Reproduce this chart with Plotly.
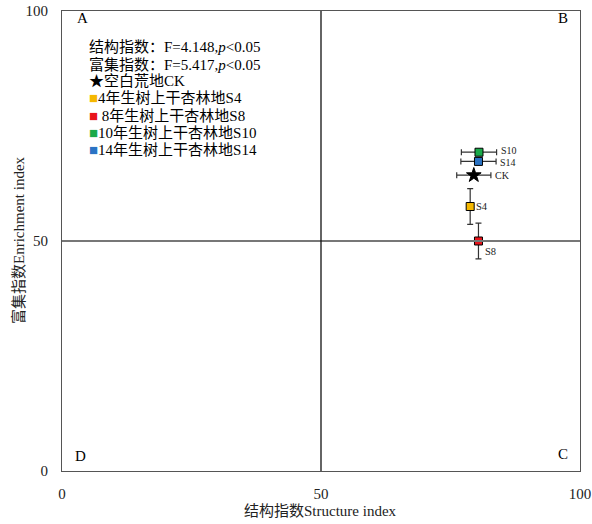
import plotly.graph_objects as go

# Data
sites = ["CK", "S4", "S8", "S10", "S14"]
legend_names = ["空白荒地CK", "4年生树上干杏林地S4", " 8年生树上干杏林地S8",
                "10年生树上干杏林地S10", "14年生树上干杏林地S14"]
structure_index = [79.5, 78.8, 80.4, 80.5, 80.4]
structure_err = [3.3, 0, 0, 3.4, 3.4]
enrichment_index = [64.3, 57.5, 50.0, 69.3, 67.3]
enrichment_err = [0, 3.9, 3.9, 0, 0]
colors = ["black", "#f5b800", "#e8141b", "#1aaa4a", "#2a73c4"]
symbols = ["star", "square", "square", "square", "square"]
legend_glyphs = ["★", "■", "■", "■", "■"]
sizes = [11, 8, 8, 8, 8]
label_yshift = [0, 0, -3, 2, -1]
stat_lines = ["结构指数：F=4.148,<i>p</i><0.05", "富集指数：F=5.417,<i>p</i><0.05"]
tick_vals = [0, 50, 100]
corner_labels = ["A", "B", "C", "D"]

FONT = "Liberation Serif, Times New Roman, Noto Sans CJK SC, serif"

W, H = 592, 524
L, T = 62, 11
R = 592 - 580
B = 524 - 471
PW, PH = W - L - R, H - T - B


def px_to_paper(px, py):
    return (px - L) / PW, (H - B - py) / PH


fig = go.Figure()
for i, s in enumerate(sites):
    fig.add_trace(go.Scatter(
        x=[structure_index[i]], y=[enrichment_index[i]],
        mode="markers",
        name=legend_names[i],
        marker=dict(symbol=symbols[i], size=sizes[i], color=colors[i],
                    line=dict(color="black", width=1)),
        error_x=dict(type="data", array=[structure_err[i]], visible=structure_err[i] > 0,
                     color="#333", thickness=1.2, width=3),
        error_y=dict(type="data", array=[enrichment_err[i]], visible=enrichment_err[i] > 0,
                     color="#333", thickness=1.2, width=3),
    ))
    # site label
    if structure_err[i] > 0:
        fig.add_annotation(x=structure_index[i] + structure_err[i] + 0.4, y=enrichment_index[i],
                           text=s, showarrow=False, xanchor="left", yanchor="middle",
                           yshift=label_yshift[i],
                           font=dict(family=FONT, size=10, color="#222"))
    elif s == "S8":
        fig.add_annotation(x=structure_index[i] + 0.8, y=enrichment_index[i],
                           text=s, showarrow=False, xanchor="left", yanchor="top",
                           yshift=label_yshift[i],
                           font=dict(family=FONT, size=10.5, color="#222"))
    else:
        fig.add_annotation(x=structure_index[i] + 0.8, y=enrichment_index[i],
                           text=s, showarrow=False, xanchor="left", yanchor="middle",
                           yshift=label_yshift[i],
                           font=dict(family=FONT, size=10.5, color="#222"))

# quadrant divider lines
fig.add_shape(type="line", x0=0, x1=100, y0=50, y1=50, xref="x", yref="y",
              line=dict(color="#777", width=2))
fig.add_shape(type="line", x0=50, x1=50, y0=0, y1=100, xref="x", yref="y",
              line=dict(color="#111", width=1.3))

# corner labels
corner_px = [(75, 18, "left"), (563, 18, "center"), (563, 454, "center"), (80, 456, "center")]
for lab, (cx, cy, xa) in zip(corner_labels, corner_px):
    px_, py_ = px_to_paper(cx, cy)
    fig.add_annotation(x=px_, y=py_, xref="paper", yref="paper", text=lab, showarrow=False,
                       xanchor=xa, yanchor="middle", font=dict(family=FONT, size=15, color="black"))

# legend-like text block (stats + entries)
line_y = [47, 64, 81, 98, 116, 133, 150]
text_x = 87
rows = stat_lines + [
    f'<span style="color:{c}">{g}</span>{n}' for g, c, n in zip(legend_glyphs, colors, legend_names)
]
for txt, yy in zip(rows, line_y):
    px_, py_ = px_to_paper(text_x, yy)
    fig.add_annotation(x=px_, y=py_, xref="paper", yref="paper", text=txt, showarrow=False,
                       xanchor="left", yanchor="middle", align="left",
                       font=dict(family=FONT, size=15, color="black"))

# axis titles
px_, py_ = px_to_paper(320, 511)
fig.add_annotation(x=px_, y=py_, xref="paper", yref="paper", text="结构指数Structure index",
                   showarrow=False, xanchor="center", yanchor="middle",
                   font=dict(family=FONT, size=15, color="#222"))
px_, py_ = px_to_paper(18, 240)
fig.add_annotation(x=px_, y=py_, xref="paper", yref="paper", text="富集指数Enrichment index",
                   showarrow=False, xanchor="center", yanchor="middle", textangle=-90,
                   font=dict(family=FONT, size=15, color="#222"))

fig.update_layout(
    width=W, height=H,
    margin=dict(l=L, r=R, t=T, b=B),
    paper_bgcolor="white", plot_bgcolor="white",
    font=dict(family=FONT, size=15, color="black"),
    showlegend=False,
    xaxis=dict(range=[0, 100], tickvals=tick_vals, showgrid=False, zeroline=False,
               showline=True, linecolor="#555", linewidth=1.2, mirror=True,
               ticks="", ticklen=0, automargin=False, ticklabelstandoff=9,
               ticklabeloverflow="allow",
               tickfont=dict(family=FONT, size=15, color="#222")),
    yaxis=dict(range=[0, 100], tickvals=tick_vals, showgrid=False, zeroline=False,
               showline=True, linecolor="#555", linewidth=1.2, mirror=True,
               ticks="", ticklen=0, automargin=False, ticklabelstandoff=10,
               ticklabeloverflow="allow",
               tickfont=dict(family=FONT, size=15, color="#222")),
)

fig.write_html("out.html", config={"displayModeBar": False},
               post_script="document.body.style.margin='0';")
